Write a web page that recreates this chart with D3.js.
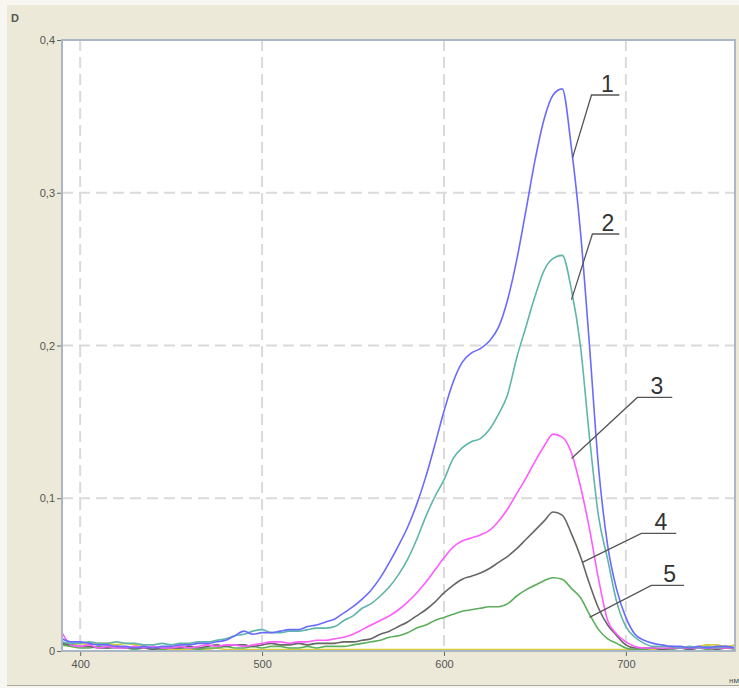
<!DOCTYPE html>
<html>
<head>
<meta charset="utf-8">
<script src="https://cdn.jsdelivr.net/npm/d3@7/dist/d3.min.js"></script>
<style>
  html, body { margin: 0; padding: 0; background: #f7f6f1; }
  svg { display: block; }
</style>
</head>
<body>
<svg id="chart" width="739" height="688"></svg>
<script>
// ---- data ----
const wavelengths = [390,395,400,405,410,415,420,425,430,435,
  440,445,450,455,460,465,470,475,480,485,
  490,495,500,505,510,515,520,525,530,535,
  540,545,550,555,560,565,570,575,580,585,
  590,595,600,605,610,615,620,625,630,635,
  640,645,650,655,660,665,670,675,680,685,
  690,695,700,705,710,715,720,725,730,735,
  740,745,750,755,760];

const series1 = [0.008,0.006,0.006,0.005,0.004,0.004,0.003,0.003,0.002,0.003,
  0.002,0.003,0.003,0.004,0.004,0.005,0.005,0.006,0.007,0.010,
  0.013,0.011,0.012,0.012,0.013,0.014,0.014,0.016,0.017,0.019,
  0.021,0.025,0.029,0.034,0.040,0.048,0.058,0.069,0.081,0.096,
  0.114,0.135,0.157,0.176,0.189,0.195,0.198,0.203,0.212,0.230,
  0.256,0.288,0.321,0.348,0.364,0.368,0.330,0.275,0.200,0.120,
  0.069,0.040,0.022,0.011,0.007,0.005,0.004,0.003,0.003,0.002,
  0.003,0.002,0.003,0.003,0.002];

const series2 = [0.006,0.005,0.005,0.006,0.005,0.005,0.006,0.005,0.005,0.004,
  0.004,0.005,0.004,0.005,0.005,0.006,0.006,0.007,0.008,0.010,
  0.011,0.013,0.014,0.012,0.012,0.013,0.013,0.014,0.015,0.015,
  0.016,0.020,0.023,0.028,0.031,0.036,0.042,0.050,0.060,0.073,
  0.088,0.101,0.112,0.126,0.133,0.137,0.139,0.145,0.155,0.168,
  0.192,0.212,0.232,0.249,0.257,0.259,0.237,0.200,0.140,0.088,
  0.060,0.032,0.016,0.009,0.005,0.003,0.003,0.003,0.002,0.003,
  0.002,0.003,0.002,0.003,0.002];

const series3 = [0.012,0.004,0.003,0.004,0.002,0.003,0.002,0.002,0.003,0.002,
  0.003,0.002,0.002,0.003,0.002,0.003,0.004,0.003,0.004,0.004,
  0.003,0.004,0.005,0.006,0.006,0.005,0.006,0.006,0.007,0.007,
  0.008,0.009,0.011,0.014,0.017,0.020,0.023,0.027,0.032,0.038,
  0.045,0.053,0.061,0.068,0.072,0.074,0.076,0.079,0.085,0.093,
  0.103,0.113,0.124,0.134,0.142,0.140,0.130,0.108,0.080,0.047,
  0.020,0.011,0.006,0.003,0.002,0.002,0.002,0.002,0.002,0.002,
  0.002,0.002,0.002,0.002,0.002];

const series4 = [0.005,0.004,0.003,0.003,0.002,0.002,0.003,0.002,0.002,0.002,
  0.001,0.002,0.002,0.002,0.003,0.002,0.003,0.004,0.003,0.004,
  0.004,0.003,0.004,0.005,0.004,0.004,0.005,0.004,0.005,0.005,
  0.005,0.006,0.006,0.007,0.008,0.011,0.013,0.016,0.019,0.023,
  0.027,0.032,0.038,0.043,0.047,0.049,0.051,0.054,0.058,0.062,
  0.067,0.073,0.079,0.085,0.091,0.089,0.077,0.062,0.044,0.028,
  0.017,0.010,0.004,0.002,0.002,0.002,0.001,0.002,0.002,0.001,
  0.002,0.002,0.001,0.002,0.002];

const series5 = [0.004,0.003,0.002,0.002,0.003,0.002,0.002,0.002,0.001,0.002,
  0.002,0.001,0.002,0.002,0.002,0.001,0.002,0.002,0.003,0.002,
  0.002,0.003,0.002,0.003,0.003,0.002,0.002,0.003,0.002,0.003,
  0.003,0.003,0.004,0.005,0.006,0.007,0.009,0.010,0.012,0.015,
  0.017,0.020,0.022,0.024,0.026,0.027,0.028,0.029,0.029,0.031,
  0.036,0.040,0.043,0.046,0.048,0.047,0.041,0.035,0.024,0.014,
  0.008,0.005,0.002,0.001,0.001,0.002,0.001,0.001,0.002,0.001,
  0.002,0.001,0.002,0.002,0.001];

const baseline = [0.004,0.004,0.005,0.004,0.005,0.005,0.004,0.005,0.004,0.003,
  0.002,0.001,0.001,0.001,0.001,0.001,0.001,0.002,0.001,0.001,
  0.001,0.001,0.001,0.001,0.001,0.001,0.001,0.001,0.001,0.001,
  0.001,0.001,0.001,0.001,0.001,0.001,0.001,0.001,0.001,0.001,
  0.001,0.001,0.001,0.001,0.001,0.001,0.001,0.001,0.001,0.001,
  0.001,0.001,0.001,0.001,0.001,0.001,0.001,0.001,0.001,0.001,
  0.001,0.001,0.001,0.001,0.001,0.001,0.001,0.002,0.002,0.002,
  0.003,0.004,0.004,0.003,0.004];

const seriesNames = ["baseline", "5", "4", "3", "2", "1"];
const seriesColors = ["#d8cc3c", "#5cae5c", "#666666", "#ff5cff", "#5fb5aa", "#6a6aff"];

const yTicks = [0, 0.1, 0.2, 0.3, 0.4];
const xTicks = [400, 500, 600, 700];
const yLabel = "D";
const xLabel = "нм";

// annotation labels: curve point, underline start, underline end wavelength
const annLabels = ["1", "2", "3", "4", "5"];
const annPointWl = [670.7, 670.1, 670.1, 676.1, 680.0];
const annPointVal = [0.323, 0.230, 0.126, 0.058, 0.022];
const annLineWl = [681.1, 681.6, 706.3, 708.5, 714.0];
const annLineVal = [0.364, 0.273, 0.166, 0.077, 0.043];
const annLineEndWl = [696.4, 696.4, 725.5, 727.7, 732.0];

// ---- drawing ----
const svg = d3.select("#chart");
const W = 739, H = 688;
const plot = { left: 62, top: 40, right: 735, bottom: 651 };

// window background
svg.append("rect").attr("x", 7).attr("y", 5).attr("width", W - 7).attr("height", 680)
  .attr("fill", "#ece9d8");
svg.append("line").attr("x1", 7).attr("x2", W).attr("y1", 685.5).attr("y2", 685.5)
  .attr("stroke", "#aca899").attr("stroke-width", 1);

const x = d3.scaleLinear().domain([390, 760]).range([plot.left, plot.right]);
const y = d3.scaleLinear().domain([0, 0.4]).range([plot.bottom, plot.top]);

// plot area
svg.append("rect").attr("x", plot.left).attr("y", plot.top)
  .attr("width", plot.right - plot.left).attr("height", plot.bottom - plot.top)
  .attr("fill", "#ffffff");

svg.append("defs").append("clipPath").attr("id", "clip")
  .append("rect").attr("x", plot.left).attr("y", plot.top)
  .attr("width", plot.right - plot.left).attr("height", plot.bottom - plot.top);

// grid
const grid = svg.append("g").attr("stroke", "#dadada").attr("stroke-width", 2)
  .attr("stroke-dasharray", "11,6");
grid.selectAll("line.v").data(xTicks).enter().append("line")
  .attr("x1", d => x(d)).attr("x2", d => x(d))
  .attr("y1", plot.top).attr("y2", plot.bottom);
grid.selectAll("line.h").data(yTicks.filter(d => d > 0 && d < 0.4)).enter().append("line")
  .attr("x1", plot.left).attr("x2", plot.right)
  .attr("y1", d => y(d)).attr("y2", d => y(d));

// lines
const allSeries = [baseline, series5, series4, series3, series2, series1];
const line = d3.line()
  .x((d, i) => x(wavelengths[i]))
  .y(d => y(d))
  .curve(d3.curveMonotoneX);

const lg = svg.append("g").attr("clip-path", "url(#clip)");
allSeries.forEach((s, k) => {
  lg.append("path").datum(s)
    .attr("fill", "none")
    .attr("stroke", seriesColors[k])
    .attr("stroke-width", 1.6)
    .attr("stroke-linejoin", "round")
    .attr("d", line);
});

// frame
svg.append("rect").attr("x", plot.left).attr("y", plot.top)
  .attr("width", plot.right - plot.left).attr("height", plot.bottom - plot.top)
  .attr("fill", "none").attr("stroke", "#a9b7c6").attr("stroke-width", 2);

// axes
const fmt = d => d === 0 ? "0" : String(d).replace(".", ",");
const yAxis = svg.append("g").attr("transform", `translate(${plot.left - 1},0)`)
  .call(d3.axisLeft(y).tickValues(yTicks).tickFormat(fmt).tickSize(4).tickPadding(2));
const xAxis = svg.append("g").attr("transform", `translate(0,${plot.bottom + 1})`)
  .call(d3.axisBottom(x).tickValues(xTicks).tickFormat(d3.format("d")).tickSize(4).tickPadding(4));
[yAxis, xAxis].forEach(a => {
  a.select(".domain").remove();
  a.selectAll(".tick line").attr("stroke", "#666");
  a.selectAll(".tick text").attr("fill", "#555")
    .style("font-family", "'Liberation Sans', Arial, sans-serif").style("font-size", "11px");
});

svg.append("text").attr("x", 11).attr("y", 22).text(yLabel)
  .attr("fill", "#555").style("font-family", "'Liberation Sans', Arial, sans-serif")
  .style("font-size", "11px").style("font-weight", "bold");
svg.append("text").attr("x", 729).attr("y", 683).text(xLabel)
  .attr("fill", "#555").style("font-family", "'Liberation Sans', Arial, sans-serif")
  .style("font-size", "8px");

// annotations
const ag = svg.append("g");
annLabels.forEach((lab, i) => {
  const px = x(annPointWl[i]), py = y(annPointVal[i]);
  const lx = x(annLineWl[i]), ly = y(annLineVal[i]);
  const ex = x(annLineEndWl[i]);
  ag.append("polyline")
    .attr("points", `${px},${py} ${lx},${ly} ${ex},${ly}`)
    .attr("fill", "none").attr("stroke", "#555").attr("stroke-width", 1.3);
  ag.append("text").attr("x", (lx + ex) / 2 + 2).attr("y", ly - 3)
    .attr("text-anchor", "middle").text(lab)
    .attr("fill", "#333").style("font-family", "'Liberation Sans', Arial, sans-serif")
    .style("font-size", "23px");
});
</script>
</body>
</html>
